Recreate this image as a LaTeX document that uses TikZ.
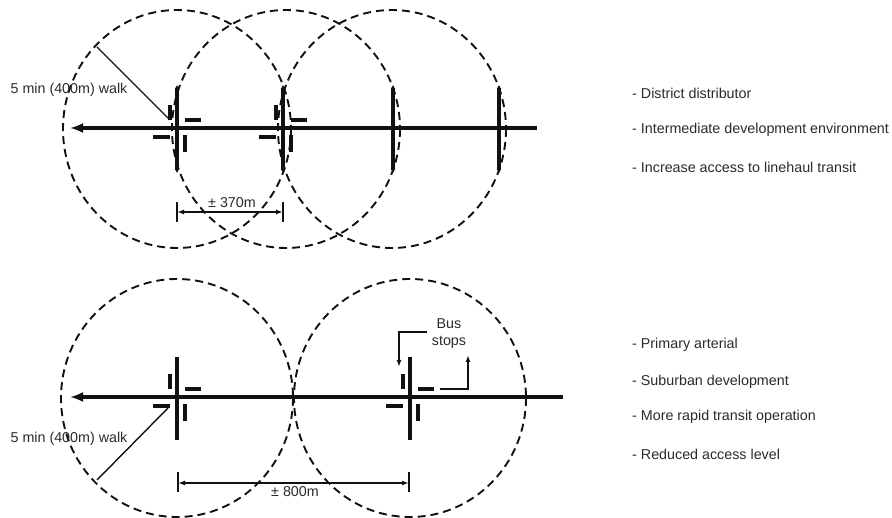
\documentclass[tikz,border=0pt]{standalone}
\usepackage{fontspec}
\setmainfont{Liberation Sans}
\usetikzlibrary{arrows.meta,calc}
\definecolor{ink}{HTML}{111111}
\definecolor{txt}{HTML}{2A2A2A}
\tikzset{
  zone/.style={draw=ink, line width=1.9pt, dash pattern=on 8pt off 5pt},
  road/.style={draw=ink, line width=3.4pt, -{Latex[length=13pt,width=10pt]}, {Latex[length=13pt,width=10pt]}-},
  xroadtop/.style={draw=ink, line width=3.6pt, {Latex[length=4pt,width=5pt]}-{Latex[length=4pt,width=5pt]}},
  xroad/.style={draw=ink, line width=3.2pt},
  stopmark/.style={draw=ink, line width=4.8pt},
  thin/.style={draw=ink, line width=1.4pt},
  dim/.style={draw=ink, line width=1.4pt, {Latex[length=7pt,width=5pt]}-{Latex[length=7pt,width=5pt]}},
  callout/.style={draw=ink, line width=1.4pt, -{Latex[length=7pt,width=5pt]}},
  lbl/.style={text=txt, font=\fontsize{14.3}{17}\selectfont, inner sep=0pt},
  item/.style={lbl, anchor=west}
}
\newcommand{\busmarks}{%
  \draw[stopmark] (-7,-23) -- (-7,-8);
  \draw[stopmark] (8,-8) -- (24,-8);
  \draw[stopmark] (-24,9) -- (-7,9);
  \draw[stopmark] (8,7) -- (8,24);
}
\begin{document}
\begin{tikzpicture}[x=1pt,y=-1pt]
\useasboundingbox (0,0) rectangle (892,518);
% ---------- top diagram ----------
\coordinate (t1) at (177,128);
\coordinate (t2) at (283,128);
\coordinate (t3) at (393,128);
\coordinate (t4) at (499,128);
\draw[zone] (177,129) ellipse [x radius=114, y radius=119];
\draw[zone] (286,129) ellipse [x radius=114, y radius=119];
\draw[zone] (392,129) ellipse [x radius=114, y radius=119];
\coordinate (tl) at (70,128);
\coordinate (tr) at (537,128);
\draw[road] (tl) -- (tr);
\foreach \c in {t1,t2,t3,t4}{
  \draw[xroadtop] ($(\c)+(0,-43)$) -- ($(\c)+(0,45)$);
}
\begin{scope}[shift={(t1)}]\busmarks\end{scope}
\begin{scope}[shift={(t2)}]\busmarks\end{scope}
\coordinate (tw) at (97,47);
\coordinate (twe) at (170,120);
\draw[thin] (tw) -- (twe);
\node[lbl] (twl) at (69,90) {5 min (400m) walk};
\coordinate (d1a) at (177,212);
\coordinate (d1b) at (283,212);
\draw[thin] (177,202) -- (177,222);
\draw[thin] (283,202) -- (283,222);
\draw[dim] (d1a) -- (d1b);
\node[lbl] (d1l) at (232,203) {± 370m};
\node[item] (i1) at (632,93) {- District distributor};
\node[item] (i2) at (632,130) {- Intermediate development environment};
\node[item] (i3) at (632,167) {- Increase access to linehaul transit};
% ---------- bottom diagram ----------
\coordinate (b1) at (177,397);
\coordinate (b2) at (410,397);
\draw[zone] (177,398) ellipse [x radius=116, y radius=119];
\draw[zone] (410,398) ellipse [x radius=116, y radius=119];
\coordinate (bl) at (70,397);
\coordinate (br) at (563,397);
\draw[road] (bl) -- (br);
\begin{scope}[shift={(b1)}]\draw[xroad] (0,-40) -- (0,43);\busmarks\end{scope}
\begin{scope}[shift={(b2)}]\draw[xroad] (0,-40) -- (0,43);\busmarks\end{scope}
\coordinate (bw) at (97,480);
\coordinate (bwe) at (168,408);
\draw[thin] (bw) -- (bwe);
\node[lbl] (bwl) at (69,439) {5 min (400m) walk};
\coordinate (d2a) at (178,483);
\coordinate (d2b) at (409,483);
\draw[thin] (178,472) -- (178,492);
\draw[thin] (409,472) -- (409,492);
\draw[dim] (d2a) -- (d2b);
\node[lbl] (d2l) at (295,492) {± 800m};
\node[lbl, align=center] (bus) at (449,334) {Bus\\stops};
\coordinate (ca) at (427,332);
\coordinate (cb) at (399,367);
\draw[callout] (ca) -| (cb);
\coordinate (cc) at (440,389);
\coordinate (cd) at (468,355);
\draw[callout] (cc) -| (cd);
\node[item] (j1) at (632,345) {- Primary arterial};
\node[item] (j2) at (632,382) {- Suburban development};
\node[item] (j3) at (632,417) {- More rapid transit operation};
\node[item] (j4) at (632,454) {- Reduced access level};
\end{tikzpicture}
\end{document}
